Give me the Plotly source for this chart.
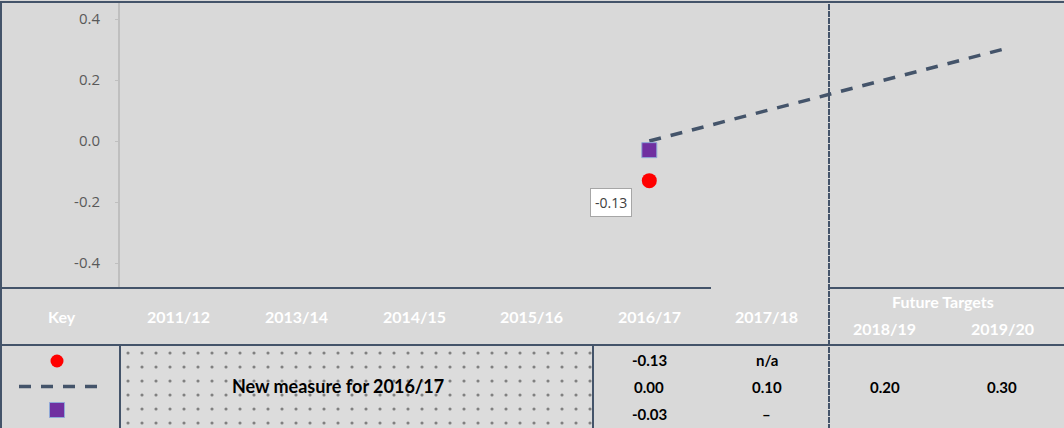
import plotly.graph_objects as go

# ---------------- data ----------------
categories = ["2011/12", "2013/14", "2014/15", "2015/16", "2016/17", "2017/18", "2018/19", "2019/20"]
actual = [None, None, None, None, -0.13, None, None, None]          # red circle
target = [None, None, None, None, 0.00, 0.10, 0.20, 0.30]          # dashed trajectory
comparator = [None, None, None, None, -0.03, None, None, None]     # purple square
actual_label = "-0.13"

header_main = ["2011/12", "2013/14", "2014/15", "2015/16", "2016/17", "2017/18"]
header_future = ["2018/19", "2019/20"]
future_title = "Future Targets"
key_title = "Key"
new_measure_text = "New measure for 2016/17"
row_actual = {"2016/17": "-0.13", "2017/18": "n/a"}
row_target = {"2016/17": "0.00", "2017/18": "0.10", "2018/19": "0.20", "2019/20": "0.30"}
row_comparator = {"2016/17": "-0.03", "2017/18": "\u2013"}
y_ticks = [-0.4, -0.2, 0.0, 0.2, 0.4]

# ---------------- style ----------------
W, H = 1064, 428
BG = "#d9d9d9"
SLATE = "#44546a"
GREY_AX = "#bfbfbf"
TABLE_FONT = "Lato"
TICK_FONT = "Open Sans"


def px(x):
    return x / W


def py(y):
    return 1 - y / H


fig = go.Figure()

fig.add_trace(go.Scatter(
    x=categories, y=target, mode="lines",
    line=dict(color=SLATE, width=3.5, dash="12px,10px"),
    hoverinfo="skip", showlegend=False))
fig.add_trace(go.Scatter(
    x=categories, y=comparator, mode="markers",
    marker=dict(symbol="square", size=15, color="#7030a0", line=dict(color="#8fa9d8", width=1)),
    showlegend=False))
fig.add_trace(go.Scatter(
    x=categories, y=actual, mode="markers",
    marker=dict(symbol="circle", size=15, color="#ff0000"),
    showlegend=False))

# dotted "new measure" panel
fig.add_trace(go.Bar(
    x=[0], y=[1], width=[1], xaxis="x2", yaxis="y2",
    marker=dict(color="#dcdcdc", line_width=0,
                pattern=dict(shape=".", fgcolor="#808080", bgcolor="#dcdcdc",
                             size=14, solidity=0.04, fillmode="replace")),
    hoverinfo="skip", showlegend=False))

fig.update_layout(
    width=W, height=H,
    margin=dict(l=0, r=0, t=0, b=0),
    paper_bgcolor=BG, plot_bgcolor=BG,
    bargap=0,
    xaxis=dict(domain=[px(120), px(1061)], type="category", categoryorder="array",
               categoryarray=categories, range=[-0.5, 7.5],
               showticklabels=False, showgrid=False, zeroline=False, showline=False, ticks=""),
    yaxis=dict(domain=[py(288), py(2)], range=[-(288 - 141) / 305, (141 - 2) / 305],
               tickvals=y_ticks, ticktext=[f"{v:.1f}" for v in y_ticks],
               showgrid=False, zeroline=False, showline=True, linecolor=GREY_AX, linewidth=2,
               ticks="outside", ticklen=3, tickcolor=GREY_AX, ticklabelstandoff=12,
               tickfont=dict(family=TICK_FONT, size=15, color="#595959")),
    xaxis2=dict(domain=[px(121), px(593)], range=[-0.5, 0.5], visible=False, anchor="y2"),
    yaxis2=dict(domain=[0, py(346)], range=[0, 1], visible=False, anchor="x2"),
)

shapes = []
lw = 2
# borders / table rules
shapes.append(dict(type="line", xref="paper", yref="paper", x0=0, x1=1, y0=py(2), y1=py(2), line=dict(color=SLATE, width=lw)))
shapes.append(dict(type="line", xref="paper", yref="paper", x0=px(1), x1=px(1), y0=py(2), y1=0, line=dict(color=SLATE, width=lw)))
shapes.append(dict(type="line", xref="paper", yref="paper", x0=0, x1=px(711), y0=py(288), y1=py(288), line=dict(color=SLATE, width=lw)))
shapes.append(dict(type="line", xref="paper", yref="paper", x0=px(829), x1=1, y0=py(288), y1=py(288), line=dict(color=SLATE, width=lw)))
shapes.append(dict(type="line", xref="paper", yref="paper", x0=0, x1=1, y0=py(345), y1=py(345), line=dict(color=SLATE, width=lw)))
shapes.append(dict(type="line", xref="paper", yref="paper", x0=px(120), x1=px(120), y0=py(345), y1=0, line=dict(color=SLATE, width=lw)))
shapes.append(dict(type="line", xref="paper", yref="paper", x0=px(593), x1=px(593), y0=py(345), y1=0, line=dict(color=SLATE, width=lw)))
shapes.append(dict(type="line", xref="paper", yref="paper", x0=px(829), x1=px(829), y0=py(4), y1=0, line=dict(color=SLATE, width=lw, dash="6px,1px")))
# key glyphs
shapes.append(dict(type="circle", xref="paper", yref="paper", x0=px(50.5), x1=px(63.5), y0=py(367.5), y1=py(354.5), fillcolor="#ff0000", line=dict(width=0)))
shapes.append(dict(type="line", xref="paper", yref="paper", x0=px(19), x1=px(100), y0=py(386.5), y1=py(386.5), line=dict(color=SLATE, width=3.5, dash="12px,10px")))
shapes.append(dict(type="rect", xref="paper", yref="paper", x0=px(49.5), x1=px(64.5), y0=py(417.5), y1=py(402.5), fillcolor="#7030a0", line=dict(color="#8fa9d8", width=1)))
fig.update_layout(shapes=shapes)

ann = []
hdr_font = dict(family=TABLE_FONT, size=16, color="white", weight="bold")
val_font = dict(family=TABLE_FONT, size=15, color="black", weight="bold")
C = dict(showarrow=False, xanchor="center", yanchor="middle")

ann.append(dict(text=key_title, xref="paper", yref="paper", x=px(62), y=py(316), font=hdr_font, **C))
for c in header_main:
    ann.append(dict(text=c, xref="x", yref="paper", x=c, y=py(316), font=hdr_font, **C))
for c in header_future:
    ann.append(dict(text=c, xref="x", yref="paper", x=c, y=py(328), font=hdr_font, **C))
ann.append(dict(text=future_title, xref="x", yref="paper", x=6.5, y=py(301), font=hdr_font, **C))

for row, yy in ((row_actual, 360), (row_target, 387), (row_comparator, 414)):
    for c, t in row.items():
        ann.append(dict(text=t, xref="x", yref="paper", x=c, y=py(yy), font=val_font, **C))

ann.append(dict(text=new_measure_text, xref="paper", yref="paper", x=px(338), y=py(386),
                font=dict(family=TABLE_FONT, size=18, color="black", weight="bold"), **C))

# data label for the actual value
ann.append(dict(text=actual_label, xref="x", yref="y", x=categories[4], y=actual[4],
                xshift=-38, yshift=-22, bgcolor="white", bordercolor="#a6a6a6", borderwidth=1, borderpad=4,
                font=dict(family=TICK_FONT, size=14, color="#404040"), **C))
fig.update_layout(annotations=ann)

fig.write_html("out.html", config={"displayModeBar": False},
               post_script="document.body.style.margin='0';document.body.style.overflow='hidden';")
